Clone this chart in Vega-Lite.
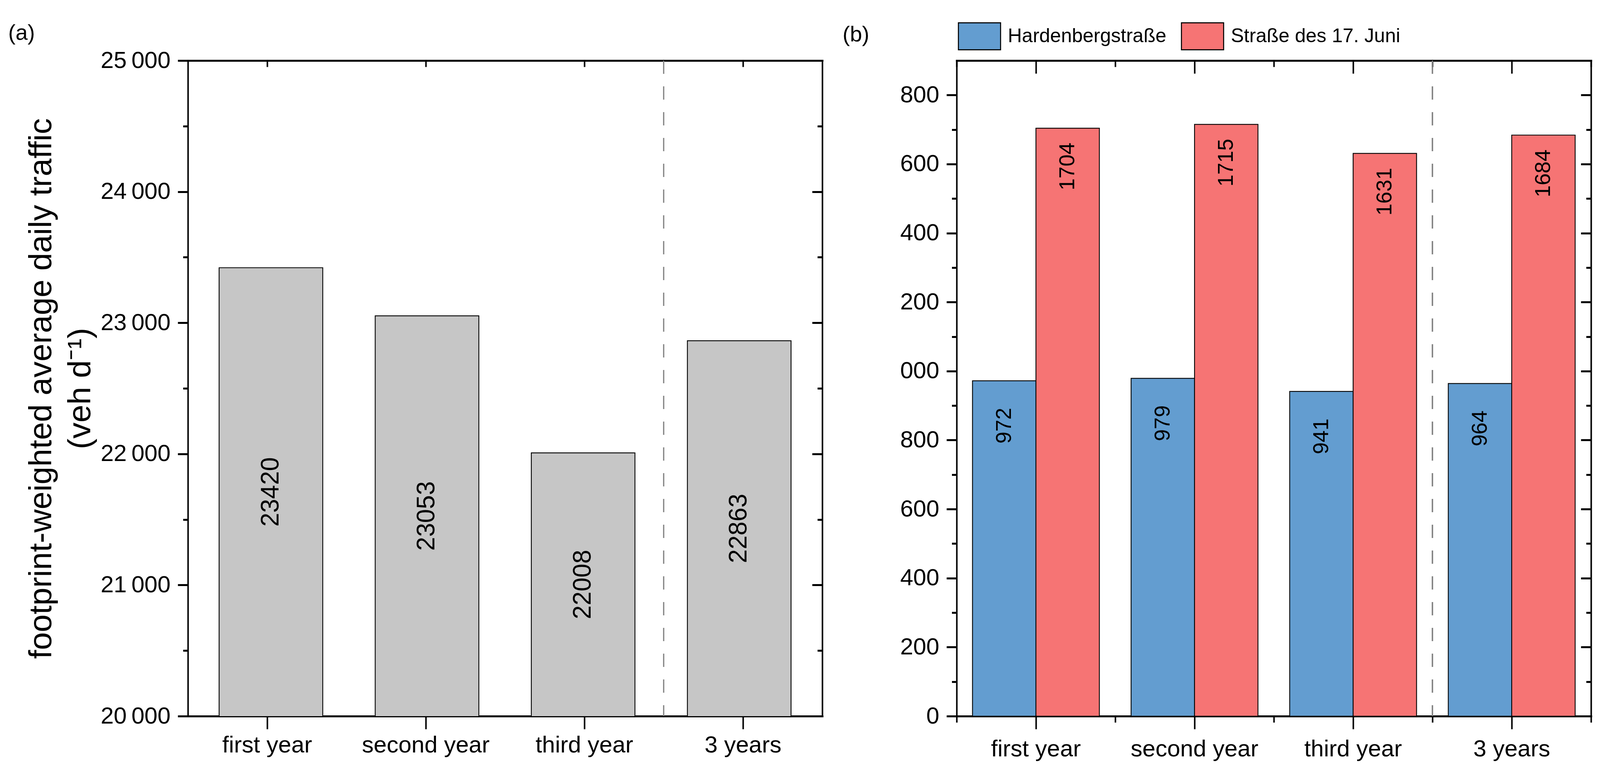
{
  "$schema": "https://vega.github.io/schema/vega-lite/v6.json",
  "background": "white",
  "padding": {"left": 21, "top": 37, "right": 6, "bottom": 6},
  "bounds": "flush",
  "spacing": 344,
  "resolve": {"legend": {"fill": "independent"}, "scale": {"fill": "independent"}},
  "config": {
    "view": {"stroke": null},
    "font": "Liberation Sans",
    "axis": {
      "domainColor": "black", "tickColor": "black", "labelColor": "black", "titleColor": "black",
      "grid": false, "domainCap": "square", "labelLimit": 2000,
      "labelFont": "Liberation Sans", "labelFontSize": 60, "titleFont": "Liberation Sans"
    },
    "axisX": {"domainWidth": 5, "tickWidth": 3.9},
    "axisY": {"domainWidth": 3.9, "tickWidth": 5}
  },
  "hconcat": [
    {
      "width": 1624,
      "height": 1678,
      "title": {"text": "(a)", "anchor": "start", "frame": "group", "dx": -460, "offset": -33, "fontSize": 56, "font": "Liberation Sans", "fontWeight": "normal", "baseline": "alphabetic", "color": "black"},
      "data": {"values": [
        {"period": "first year", "adt": 23420},
        {"period": "second year", "adt": 23053},
        {"period": "third year", "adt": 22008},
        {"period": "3 years", "adt": 22863}
      ]},
      "resolve": {"scale": {"x": "independent", "y": "independent"}},
      "layer": [
        {
          "transform": [{"filter": "datum.period == '3 years'"}],
          "mark": {"type": "rule", "stroke": "#808080", "strokeWidth": 3.1, "strokeDash": [34, 32]},
          "encoding": {
            "x": {"field": "period", "type": "nominal", "bandPosition": 0,
                  "scale": {"type": "band", "domain": ["first year", "second year", "third year", "3 years"], "paddingInner": 0, "paddingOuter": 0},
                  "axis": null}
          }
        },
        {
          "mark": {"type": "bar", "fill": "#C6C6C6", "stroke": "black", "strokeWidth": 2.2, "clip": true},
          "encoding": {
            "x": {"field": "period", "type": "nominal",
                  "scale": {"type": "band", "domain": ["first year", "second year", "third year", "3 years"], "paddingInner": 0.336, "paddingOuter": 0.2},
                  "axis": null},
            "y": {"field": "adt", "type": "quantitative",
                  "scale": {"domain": [20000, 25000], "nice": false, "zero": false},
                  "axis": {"orient": "left", "values": [20000, 21000, 22000, 23000, 24000, 25000],
                           "labelExpr": "replace(format(datum.value, ','), ',', '\u2009')",
                           "tickSize": 26, "labelPadding": 19,
                           "title": ["footprint-weighted average daily traffic", "(veh d⁻¹)"],
                           "titleFontSize": 82, "titleFontWeight": "normal", "titleLineHeight": 100, "titlePadding": 34}}
          }
        },
        {
          "mark": {"type": "text", "angle": 270, "fontSize": 64, "font": "Liberation Sans", "color": "black", "align": "center", "baseline": "middle"},
          "encoding": {
            "x": {"field": "period", "type": "nominal",
                  "scale": {"type": "band", "domain": ["first year", "second year", "third year", "3 years"], "paddingInner": 0.336, "paddingOuter": 0.2},
                  "axis": null},
            "y": {"field": "adt", "type": "quantitative",
                  "scale": {"domain": [20000, 30000], "nice": false, "zero": false},
                  "axis": null},
            "text": {"field": "adt", "type": "quantitative", "format": "d"}
          }
        },
        {
          "mark": {"type": "point", "opacity": 0},
          "encoding": {
            "x": {"field": "period", "type": "nominal",
                  "scale": {"type": "band", "domain": ["first year", "second year", "third year", "3 years"], "paddingInner": 0, "paddingOuter": 0},
                  "axis": {"orient": "bottom", "title": null, "labelAngle": 0, "tickSize": 33, "labelPadding": 12}},
            "y": {"field": "adt", "type": "quantitative",
                  "scale": {"domain": [20000, 25000], "nice": false, "zero": false},
                  "axis": {"orient": "right", "title": null, "labels": false, "tickSize": -26,
                           "values": [20000, 21000, 22000, 23000, 24000, 25000]}}
          }
        },
        {
          "mark": {"type": "point", "opacity": 0},
          "encoding": {
            "x": {"field": "period", "type": "nominal",
                  "scale": {"type": "band", "domain": ["first year", "second year", "third year", "3 years"], "paddingInner": 0, "paddingOuter": 0},
                  "axis": {"orient": "top", "title": null, "labels": false, "tickSize": -16}},
            "y": {"field": "adt", "type": "quantitative",
                  "scale": {"domain": [20000, 25000], "nice": false, "zero": false},
                  "axis": {"orient": "left", "title": null, "labels": false, "domain": false, "tickSize": 12.5,
                           "values": [20500, 21500, 22500, 23500, 24500]}}
          }
        },
        {
          "mark": {"type": "point", "opacity": 0},
          "encoding": {
            "y": {"field": "adt", "type": "quantitative",
                  "scale": {"domain": [20000, 25000], "nice": false, "zero": false},
                  "axis": {"orient": "right", "title": null, "labels": false, "domain": false, "tickSize": -12.5,
                           "values": [20500, 21500, 22500, 23500, 24500]}}
          }
        }
      ]
    },
    {
      "width": 1624,
      "height": 1678,
      "title": {"text": "(b)", "anchor": "start", "frame": "group", "dx": -292, "offset": -125, "fontSize": 56, "font": "Liberation Sans", "fontWeight": "normal", "baseline": "alphabetic", "color": "black"},
      "data": {"values": [
        {"period": "first year", "street": "Hardenbergstraße", "value": 972},
        {"period": "second year", "street": "Hardenbergstraße", "value": 979},
        {"period": "third year", "street": "Hardenbergstraße", "value": 941},
        {"period": "3 years", "street": "Hardenbergstraße", "value": 964},
        {"period": "first year", "street": "Straße des 17. Juni", "value": 1704},
        {"period": "second year", "street": "Straße des 17. Juni", "value": 1715},
        {"period": "third year", "street": "Straße des 17. Juni", "value": 1631},
        {"period": "3 years", "street": "Straße des 17. Juni", "value": 1684}
      ]},
      "resolve": {"scale": {"x": "independent"}},
      "layer": [
        {
          "transform": [{"filter": "datum.period == '3 years'"}],
          "mark": {"type": "rule", "stroke": "#808080", "strokeWidth": 3.1, "strokeDash": [34, 32]},
          "encoding": {
            "x": {"field": "period", "type": "nominal", "bandPosition": 0,
                  "scale": {"type": "band", "domain": ["first year", "second year", "third year", "3 years"], "paddingInner": 0, "paddingOuter": 0},
                  "axis": null}
          }
        },
        {
          "mark": {"type": "bar", "stroke": "black", "strokeWidth": 2.2},
          "encoding": {
            "x": {"field": "period", "type": "nominal",
                  "scale": {"type": "band", "domain": ["first year", "second year", "third year", "3 years"], "paddingInner": 0.2, "paddingOuter": 0.1},
                  "axis": null},
            "xOffset": {"field": "street", "type": "nominal",
                        "scale": {"domain": ["Hardenbergstraße", "Straße des 17. Juni"], "paddingInner": 0, "paddingOuter": 0}},
            "y": {"field": "value", "type": "quantitative",
                  "scale": {"domain": [0, 1900], "nice": false},
                  "axis": {"orient": "left", "title": null, "tickSize": 26, "labelPadding": 19,
                           "values": [0, 200, 400, 600, 800, 1000, 1200, 1400, 1600, 1800],
                           "labelExpr": "datum.value == 1000 ? '000' : (datum.value > 1000 ? format(datum.value - 1000, 'd') : format(datum.value, 'd'))"}},
            "fill": {"field": "street", "type": "nominal",
                     "scale": {"domain": ["Hardenbergstraße", "Straße des 17. Juni"], "range": ["#639DD0", "#F67474"]},
                     "legend": {"orient": "none", "legendX": 3, "legendY": -118, "direction": "horizontal", "title": null,
                                "symbolType": "M-1,-0.639H1V0.639H-1Z", "symbolSize": 11664, "symbolStrokeColor": "black", "symbolStrokeWidth": 2.6,
                                "symbolOpacity": 1, "labelFontSize": 50, "labelFont": "Liberation Sans", "labelColor": "black",
                                "labelOffset": 17, "columnPadding": 33, "padding": 0, "labelLimit": 1000}}
          }
        },
        {
          "transform": [{"filter": "datum.street == 'Straße des 17. Juni'"}],
          "mark": {"type": "text", "angle": 270, "fontSize": 55, "font": "Liberation Sans", "color": "black", "align": "center", "baseline": "middle", "dx": -98},
          "encoding": {
            "x": {"field": "period", "type": "nominal",
                  "scale": {"type": "band", "domain": ["first year", "second year", "third year", "3 years"], "paddingInner": 0.2, "paddingOuter": 0.1},
                  "axis": null},
            "xOffset": {"field": "street", "type": "nominal",
                        "scale": {"domain": ["Hardenbergstraße", "Straße des 17. Juni"], "paddingInner": 0, "paddingOuter": 0}},
            "y": {"field": "value", "type": "quantitative", "scale": {"domain": [0, 1900], "nice": false}, "axis": null},
            "text": {"field": "value", "type": "quantitative", "format": "d"}
          }
        },
        {
          "transform": [{"filter": "datum.street == 'Hardenbergstraße'"}],
          "mark": {"type": "text", "angle": 270, "fontSize": 55, "font": "Liberation Sans", "color": "black", "align": "center", "baseline": "middle", "dx": -115},
          "encoding": {
            "x": {"field": "period", "type": "nominal",
                  "scale": {"type": "band", "domain": ["first year", "second year", "third year", "3 years"], "paddingInner": 0.2, "paddingOuter": 0.1},
                  "axis": null},
            "xOffset": {"field": "street", "type": "nominal",
                        "scale": {"domain": ["Hardenbergstraße", "Straße des 17. Juni"], "paddingInner": 0, "paddingOuter": 0}},
            "y": {"field": "value", "type": "quantitative", "scale": {"domain": [0, 1900], "nice": false}, "axis": null},
            "text": {"field": "value", "type": "quantitative", "format": "d"}
          }
        },
        {
          "mark": {"type": "point", "opacity": 0},
          "encoding": {
            "x": {"field": "period", "type": "nominal",
                  "scale": {"type": "band", "domain": ["first year", "second year", "third year", "3 years"], "paddingInner": 0.2, "paddingOuter": 0.1},
                  "axis": {"orient": "bottom", "title": null, "labelAngle": 0, "tickSize": 33, "labelPadding": 22}},
            "y": {"field": "value", "type": "quantitative", "scale": {"domain": [0, 1900], "nice": false},
                  "axis": {"orient": "right", "title": null, "labels": false, "tickSize": -26,
                           "values": [0, 200, 400, 600, 800, 1000, 1200, 1400, 1600, 1800]}}
          }
        },
        {
          "mark": {"type": "point", "opacity": 0},
          "encoding": {
            "x": {"field": "period", "type": "nominal",
                  "scale": {"type": "band", "domain": ["first year", "second year", "third year", "3 years"], "paddingInner": 0.2, "paddingOuter": 0.1},
                  "axis": {"orient": "top", "title": null, "labels": false, "tickSize": -33}},
            "y": {"field": "value", "type": "quantitative", "scale": {"domain": [0, 1900], "nice": false},
                  "axis": {"orient": "left", "title": null, "labels": false, "domain": false, "tickSize": 12.5,
                           "values": [100, 300, 500, 700, 900, 1100, 1300, 1500, 1700]}}
          }
        },
        {
          "mark": {"type": "point", "opacity": 0},
          "encoding": {
            "x": {"field": "period", "type": "nominal",
                  "scale": {"type": "band", "domain": ["first year", "second year", "third year", "3 years"], "paddingInner": 0, "paddingOuter": 0},
                  "axis": {"orient": "bottom", "title": null, "labels": false, "domain": false, "tickSize": 16, "tickBand": "extent"}},
            "y": {"field": "value", "type": "quantitative", "scale": {"domain": [0, 1900], "nice": false},
                  "axis": {"orient": "right", "title": null, "labels": false, "domain": false, "tickSize": -12.5,
                           "values": [100, 300, 500, 700, 900, 1100, 1300, 1500, 1700]}}
          }
        },
        {
          "mark": {"type": "point", "opacity": 0},
          "encoding": {
            "x": {"field": "period", "type": "nominal",
                  "scale": {"type": "band", "domain": ["first year", "second year", "third year", "3 years"], "paddingInner": 0, "paddingOuter": 0},
                  "axis": {"orient": "top", "title": null, "labels": false, "domain": false, "tickSize": -16, "tickBand": "extent"}}
          }
        }
      ]
    }
  ]
}
